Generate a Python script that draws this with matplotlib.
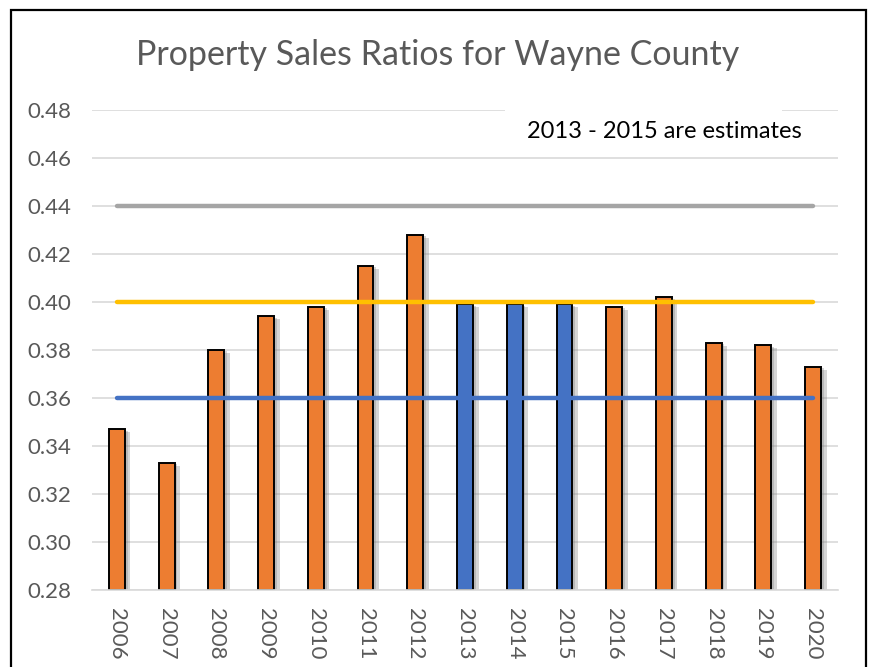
import numpy as np
import matplotlib
matplotlib.use("Agg")
import matplotlib.pyplot as plt
import matplotlib.patheffects as pe
from matplotlib.patches import Rectangle

# data
years = ["2006", "2007", "2008", "2009", "2010", "2011", "2012", "2013",
         "2014", "2015", "2016", "2017", "2018", "2019", "2020"]
ratios = [0.347, 0.333, 0.380, 0.394, 0.398, 0.415, 0.428, 0.399,
          0.399, 0.399, 0.398, 0.402, 0.383, 0.382, 0.373]
estimated = ["2013", "2014", "2015"]
ref_levels = [0.44, 0.40, 0.36]
ref_colors = ["#A5A5A5", "#FFC000", "#4472C4"]
yticks = [0.28, 0.30, 0.32, 0.34, 0.36, 0.38, 0.40, 0.42, 0.44, 0.46, 0.48]

plt.rcParams['font.family'] = ['Lato', 'DejaVu Sans']

fig = plt.figure(figsize=(8.69, 6.67), dpi=100)
ax = fig.add_axes([92/869, 1-590/667, (838-92)/869, (590-110)/667])

x = np.arange(len(years))
colors = ["#4472C4" if y in estimated else "#ED7D31" for y in years]
bars = ax.bar(x, np.array(ratios) - 0.28, bottom=0.28, width=0.32,
              color=colors, edgecolor="black", linewidth=1.4, zorder=2)
for b in bars:
    b.set_path_effects([pe.SimplePatchShadow(offset=(4, -2), shadow_rgbFace="#777777", alpha=0.3),
                        pe.SimplePatchShadow(offset=(2, -1), shadow_rgbFace="#777777", alpha=0.3),
                        pe.Normal()])

for lev, c in zip(ref_levels, ref_colors):
    ax.plot(x, [lev]*len(x), color=c, lw=3.2, solid_capstyle="round", zorder=3)

ax.set_xlim(-0.5, len(years) - 0.5)
ax.set_ylim(0.28, 0.48)
ax.set_yticks(yticks)
ax.set_yticklabels(["%.2f" % t for t in yticks])
ax.set_xticks(x)
ax.set_xticklabels(years, rotation=270)
ax.tick_params(axis="both", length=0, labelsize=16, labelcolor="#595959")
ax.tick_params(axis="y", pad=15)
ax.tick_params(axis="x", pad=13)
ax.grid(axis="y", color="#D9D9D9", lw=1.2, zorder=0)
ax.set_axisbelow(True)
for s in ["top", "right", "left"]:
    ax.spines[s].set_visible(False)
ax.spines["bottom"].set_color("#D9D9D9")
ax.spines["bottom"].set_linewidth(1.2)

fig.text(438/869, 1-55/667, "Property Sales Ratios for Wayne County",
         ha="center", va="center", fontsize=24.5, color="#595959")

# note box: white patch hides part of the top gridline, text sits below it
fig.patches.append(Rectangle((505/869, 1-150/667), (782-505)/869, 50/667,
                             transform=fig.transFigure, facecolor="white",
                             edgecolor="none", zorder=4))
fig.text(664/869, 1-131/667, "2013 - 2015 are estimates",
         ha="center", va="center", fontsize=17, color="black", zorder=5)

# outer frame
fig.patches.append(Rectangle((11/869, -0.02), (866-11)/869, 1.02 - 10/667,
                             transform=fig.transFigure, fill=False,
                             edgecolor="black", lw=1.6, zorder=10))

fig.savefig("out.png", dpi=100)
